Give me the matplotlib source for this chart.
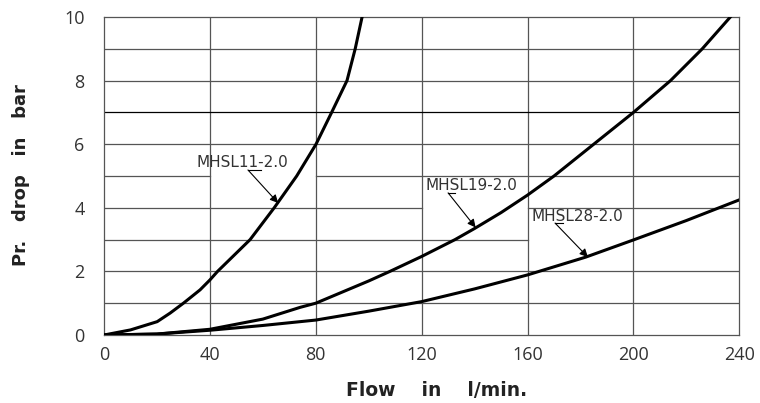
import numpy as np
import matplotlib
matplotlib.use("Agg")
import matplotlib.pyplot as plt

# values (flow l/min, pressure drop bar)
x11 = [0, 10, 20.1, 25, 30, 36.3, 40, 42.9, 55.2, 64.3, 72.8, 80.1, 86, 91.8, 94.9, 97.5]
y11 = [0, 0.16, 0.42, 0.69, 1.0, 1.42, 1.73, 2.0, 3.0, 4.0, 5.0, 6.0, 7.0, 8.0, 9.0, 10.0]

x19 = [0, 20, 40, 60, 74.1, 80, 100, 108, 120, 132.6, 140, 150, 160, 170, 185, 200, 214, 226, 236.6]
y19 = [0, 0.03, 0.18, 0.5, 0.87, 1.0, 1.7, 2.0, 2.47, 3.0, 3.35, 3.85, 4.4, 5.0, 6.0, 7.0, 8.0, 9.0, 10.0]

x28 = [0, 20, 40, 60, 74.1, 80, 100, 120, 140, 160, 182, 200, 220, 240]
y28 = [0, 0.03, 0.15, 0.3, 0.42, 0.47, 0.75, 1.05, 1.45, 1.89, 2.45, 2.99, 3.6, 4.25]

names = ["MHSL11-2.0", "MHSL19-2.0", "MHSL28-2.0"]
label_pos = [(35.1, 5.44), (121.3, 4.70), (161.6, 3.74)]
arrow_from = [(54.4, 5.19), (130.0, 4.47), (170.4, 3.52)]
arrow_to = [(65.8, 4.15), (140.4, 3.38), (182.8, 2.45)]
underline = [(54.4, 59.5), (130.0, 132.6), (170.4, 173.4)]

xticks = [0, 40, 80, 120, 160, 200, 240]
yticks = [0, 2, 4, 6, 8, 10]
# horizontal grid levels and the gaps the label boxes leave in them
hgrid = [1, 2, 3, 4, 5, 6, 7, 8, 9]
gaps = {5: (40, 80), 4: (120, 160), 3: (160, 240)}

fig = plt.figure(figsize=(7.6, 4.03), dpi=100)
ax = fig.add_axes([0.1368, 0.1687, 0.836, 0.7891])
ax.set_xlim(0, 240)
ax.set_ylim(0, 10)

gc = "#555555"
for v in xticks[1:-1]:
    ax.axvline(v, color=gc, lw=0.9, zorder=1)
for h in hgrid:
    col = "black" if h == 7 else gc
    if h in gaps:
        a, b = gaps[h]
        ax.plot([0, a], [h, h], color=col, lw=0.9, zorder=1)
        if b < 240:
            ax.plot([b, 240], [h, h], color=col, lw=0.9, zorder=1)
    else:
        ax.axhline(h, color=col, lw=0.9, zorder=1)
for s in ax.spines.values():
    s.set_color(gc)
    s.set_linewidth(0.9)

for xs, ys in [(x11, y11), (x19, y19), (x28, y28)]:
    ax.plot(xs, ys, color="black", lw=2.2, zorder=3, solid_joinstyle="round")

for n, lp, af, at, ul in zip(names, label_pos, arrow_from, arrow_to, underline):
    ax.text(lp[0], lp[1], n, fontsize=11, color="#333333", va="center", ha="left",
            family="DejaVu Sans", zorder=4)
    ax.plot(ul, [af[1], af[1]], color="black", lw=0.8, zorder=4)
    ax.annotate("", xy=at, xytext=af,
                arrowprops=dict(arrowstyle="-|>", color="black", lw=0.8,
                                mutation_scale=12, shrinkA=0, shrinkB=0),
                zorder=4)

ax.set_xticks(xticks)
ax.set_yticks(yticks)
ax.tick_params(length=0, labelsize=13, labelcolor="#333333")
ax.tick_params(axis="y", pad=14)
ax.tick_params(axis="x", pad=8)
for lab in ax.get_xticklabels() + ax.get_yticklabels():
    lab.set_family("Open Sans")

fig.text(0.028, 0.566, "Pr.   drop   in   bar", rotation=90, ha="center", va="center",
         fontsize=13, fontweight="bold", family="DejaVu Sans", color="#222222")
fig.text(0.575, 0.032, "Flow    in    l/min.", ha="center", va="center",
         fontsize=13.5, fontweight="bold", family="DejaVu Sans", color="#222222")

fig.savefig("out.png", dpi=100)
